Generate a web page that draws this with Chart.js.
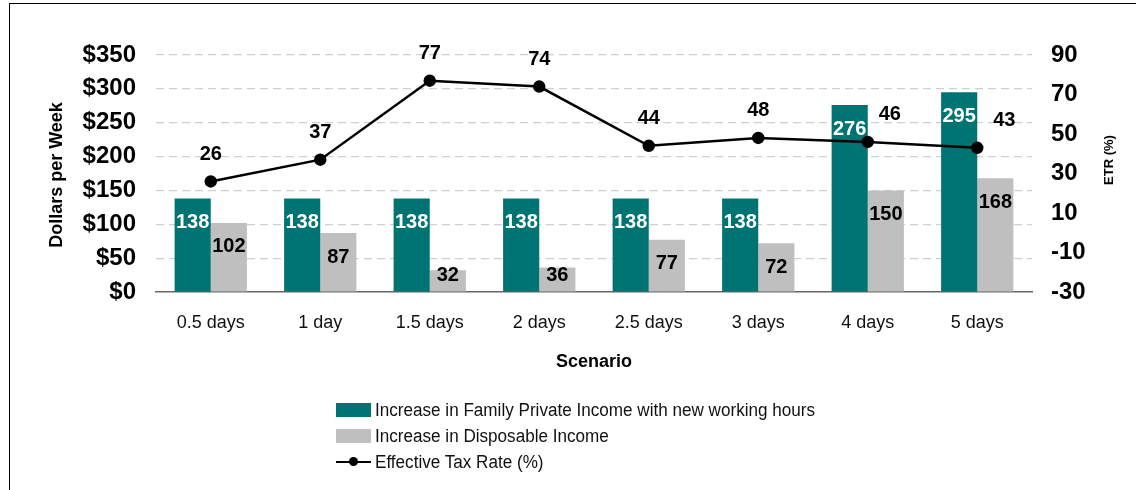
<!DOCTYPE html>
<html>
<head>
<meta charset="utf-8">
<script src="https://cdn.jsdelivr.net/npm/chart.js@4.4.1/dist/chart.umd.min.js"></script>
<style>
  html, body { margin: 0; padding: 0; background: #fff; }
  #wrap { position: relative; width: 1136px; height: 490px; overflow: hidden; font-family: "Liberation Sans", Arial, sans-serif; }
  #frame { position: absolute; left: 9px; top: 3px; width: 1200px; height: 600px; border-left: 1.5px solid #000; border-top: 1.5px solid #000; box-sizing: border-box; }
  canvas { position: absolute; left: 0; top: 0; }
  #legend { position: absolute; left: 336px; top: 399px; color: #111; font-size: 18px; }
  .row { position: relative; height: 26px; line-height: 22px; white-space: nowrap; }
  .sw { position: absolute; left: 0; top: 4px; width: 35px; height: 14px; }
  .lab { position: absolute; left: 39px; top: 0; transform: scaleX(0.95); transform-origin: left center; }
  .ln { position: absolute; left: 0; top: 10px; width: 35px; height: 2px; background: #000; }
  .dot { position: absolute; left: 13px; top: 6px; width: 9px; height: 9px; border-radius: 50%; background: #000; }
</style>
</head>
<body>
<div id="wrap">
  <canvas id="c" width="1136" height="490"></canvas>
  <div id="frame"></div>
  <div id="legend"></div>
</div>
<script>
const categories = ["0.5 days", "1 day", "1.5 days", "2 days", "2.5 days", "3 days", "4 days", "5 days"];
const privateIncome = [138, 138, 138, 138, 138, 138, 276, 295];
const disposableIncome = [102, 87, 32, 36, 77, 72, 150, 168];
const effectiveTaxRate = [26, 37, 77, 74, 44, 48, 46, 43];
const seriesNames = ["Increase in Family Private Income with new working hours", "Increase in Disposable Income", "Effective Tax Rate (%)"];
const leftTicks = [0, 50, 100, 150, 200, 250, 300, 350];
const rightTicks = [-30, -10, 10, 30, 50, 70, 90];

const TEAL = "#007473";
const GRAY = "#bfbfbf";
const FONT = "'Liberation Sans', Arial, sans-serif";

const labelPlugin = {
  id: "labels",
  afterDatasetsDraw(chart) {
    const ctx = chart.ctx;
    const yL = chart.scales.y;
    const base = yL.getPixelForValue(0);
    ctx.save();
    ctx.font = "bold 20px " + FONT;
    ctx.textAlign = "center";
    ctx.textBaseline = "middle";
    [0, 1].forEach(di => {
      const meta = chart.getDatasetMeta(di);
      meta.data.forEach((bar, i) => {
        const v = chart.data.datasets[di].data[i];
        const y = Math.min(bar.y + 24, base - 17);
        ctx.fillStyle = di === 0 ? "#ffffff" : "#000000";
        ctx.fillText(String(v), bar.x, y);
      });
    });
    const shift = [0, 0, 0, 0, 0, 0, 22, 27];
    const lm = chart.getDatasetMeta(2);
    ctx.fillStyle = "#000";
    lm.data.forEach((pt, i) => {
      ctx.fillText(String(chart.data.datasets[2].data[i]), pt.x + shift[i], pt.y - 27);
    });
    // axis titles
    ctx.font = "bold 18px " + FONT;
    ctx.fillText("Scenario", (chart.chartArea.left + chart.chartArea.right) / 2, 362);
    ctx.save();
    ctx.translate(57, 175);
    ctx.rotate(-Math.PI / 2);
    ctx.fillText("Dollars per Week", 0, 0);
    ctx.restore();
    ctx.save();
    ctx.font = "bold 13px " + FONT;
    ctx.translate(1109, 160);
    ctx.rotate(-Math.PI / 2);
    ctx.fillText("ETR (%)", 0, 0);
    ctx.restore();
    ctx.restore();
  }
};

new Chart(document.getElementById("c"), {
  data: {
    labels: categories,
    datasets: [
      { type: "bar", label: seriesNames[0], data: privateIncome, backgroundColor: TEAL, yAxisID: "y", order: 1,
        categoryPercentage: 0.66, barPercentage: 1.0 },
      { type: "bar", label: seriesNames[1], data: disposableIncome, backgroundColor: GRAY, yAxisID: "y", order: 1,
        categoryPercentage: 0.66, barPercentage: 1.0 },
      { type: "line", label: seriesNames[2], data: effectiveTaxRate, yAxisID: "y2", order: 0,
        borderColor: "#000", borderWidth: 2.5, pointRadius: 5, pointBackgroundColor: "#000", pointBorderColor: "#000",
        tension: 0 }
    ]
  },
  options: {
    responsive: false,
    animation: false,
    layout: { padding: { top: 55, left: 0, right: 0, bottom: 0 } },
    plugins: { legend: { display: false }, tooltip: { enabled: false } },
    scales: {
      x: {
        grid: { display: false, drawTicks: false },
        border: { display: true, color: "#666", width: 1.5 },
        ticks: { color: "#111", font: { family: FONT, size: 18 }, padding: 20, maxRotation: 0 },
        afterFit(s) { s.height = 198; }
      },
      y: {
        position: "left",
        min: 0, max: 350,
        afterBuildTicks(s) { s.ticks = leftTicks.map(v => ({ value: v })); },
        grid: { drawTicks: false, color: c => (c.tick && c.tick.value === 0) ? "rgba(0,0,0,0)" : "#cfcfcf", lineWidth: 1.2 },
        border: { display: false, dash: [8, 5] },
        ticks: { color: "#000", font: { family: FONT, size: 24, weight: "bold" }, padding: 20, callback: v => "$" + v },
        afterFit(s) { s.width = 156; }
      },
      y2: {
        position: "right",
        min: -30, max: 90,
        afterBuildTicks(s) { s.ticks = rightTicks.map(v => ({ value: v })); },
        grid: { display: false, drawTicks: false },
        border: { display: false },
        ticks: { color: "#000", font: { family: FONT, size: 24, weight: "bold" }, padding: 19 },
        afterFit(s) { s.width = 104; }
      }
    }
  },
  plugins: [labelPlugin]
});

const legend = document.getElementById("legend");
legend.innerHTML =
  '<div class="row"><div class="sw" style="background:' + TEAL + '"></div><div class="lab">' + seriesNames[0] + '</div></div>' +
  '<div class="row"><div class="sw" style="background:' + GRAY + '"></div><div class="lab">' + seriesNames[1] + '</div></div>' +
  '<div class="row"><div class="ln"></div><div class="dot"></div><div class="lab">' + seriesNames[2] + '</div></div>';
</script>
</body>
</html>
